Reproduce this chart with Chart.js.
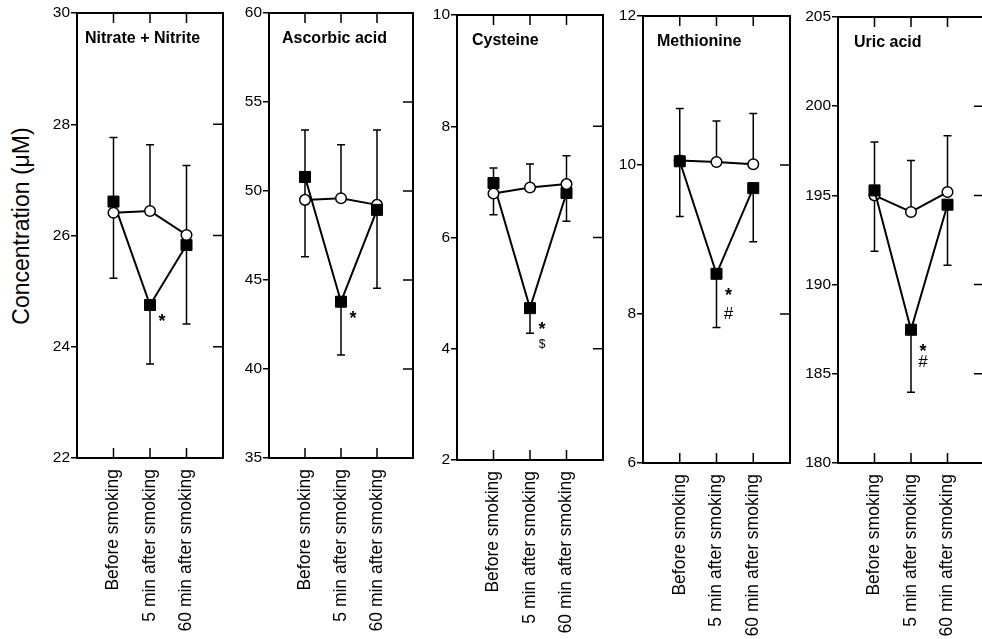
<!DOCTYPE html>
<html>
<head>
<meta charset="utf-8">
<script src="https://cdn.jsdelivr.net/npm/chart.js@4.4.1/dist/chart.umd.min.js"></script>
<style>
html, body { margin: 0; padding: 0; width: 982px; height: 639px; overflow: hidden; background: #fff; }
canvas { position: absolute; top: 0; }
#ytitle {
    position: absolute; left: 21px; top: 226px;
    transform: translate(-50%, -50%) rotate(-90deg);
    font: 23px "Liberation Sans", Arial, sans-serif; white-space: nowrap; color: #000;
}
</style>
</head>
<body>
<div id="ytitle">Concentration (μM)</div>
<canvas id="p1"></canvas>
<canvas id="p2"></canvas>
<canvas id="p3"></canvas>
<canvas id="p4"></canvas>
<canvas id="p5"></canvas>
<script>
const categories = ['Before smoking', '5 min after smoking', '60 min after smoking'];

// open circles (drawn with upward SD), filled squares (drawn with downward SD)
const nitrateOpen = [26.41, 26.44, 26.01];
const nitrateOpenSD = [1.35, 1.19, 1.25];
const nitrateFilled = [26.61, 24.75, 25.83];
const nitrateFilledSD = [1.38, 1.06, 1.42];

const ascorbicOpen = [49.5, 49.59, 49.22];
const ascorbicOpenSD = [3.92, 3.01, 4.2];
const ascorbicFilled = [50.79, 43.78, 48.94];
const ascorbicFilledSD = [4.49, 2.99, 4.41];

const cysteineOpen = [6.79, 6.9, 6.96];
const cysteineOpenSD = [0.46, 0.42, 0.51];
const cysteineFilled = [6.98, 4.73, 6.8];
const cysteineFilledSD = [0.57, 0.45, 0.51];

const methionineOpen = [10.06, 10.04, 10.01];
const methionineOpenSD = [0.7, 0.55, 0.68];
const methionineFilled = [10.05, 8.54, 9.69];
const methionineFilledSD = [0.74, 0.72, 0.72];

const uricOpen = [195.0, 194.07, 195.19];
const uricOpenSD = [3.0, 2.88, 3.16];
const uricFilled = [195.28, 187.47, 194.48];
const uricFilledSD = [3.41, 3.51, 3.4];

const panelTitles = ['Nitrate + Nitrite', 'Ascorbic acid', 'Cysteine', 'Methionine', 'Uric acid'];
const yMins = [22, 35, 2, 6, 180];
const yMaxs = [30, 60, 10, 12, 205];
const ySteps = [2, 5, 2, 2, 5];
// significance marks beside the 5 min filled point
const marks = [['*'], ['*'], ['*', '$'], ['*', '#'], ['*', '#']];

// page layout of each panel's plot box
const boxes = [
    { left: 77, right: 223, top: 13, bottom: 458, titleDx: 8 },
    { left: 269, right: 413, top: 13, bottom: 458, titleDx: 13 },
    { left: 457, right: 603, top: 15, bottom: 460, titleDx: 15 },
    { left: 643, right: 790, top: 16, bottom: 463, titleDx: 14 },
    { left: 838, right: 984, top: 17, bottom: 463, titleDx: 16 }
];
const circleOnTop = [true, false, true, false, false];

const FONT = '"Liberation Sans", Arial, sans-serif';

function toPoints(arr) {
    return arr.map((v, i) => ({ x: i + 1, y: v }));
}

function makePanel(idx, open, openSD, filled, filledSD) {
    const box = boxes[idx];
    const canvas = document.getElementById('p' + (idx + 1));
    canvas.width = box.right - box.left + 70;
    canvas.height = 639;
    canvas.style.left = (box.left - 60) + 'px';

    const panelPlugin = {
        id: 'panel' + idx,
        beforeDatasetsDraw(chart) {
            const ctx = chart.ctx;
            const xs = chart.scales.x, ys = chart.scales.y;
            ctx.save();
            ctx.strokeStyle = '#000';
            ctx.lineWidth = 1.5;
            for (let i = 0; i < 3; i++) {
                const x = xs.getPixelForValue(i + 1);
                const y0 = ys.getPixelForValue(open[i]);
                const y1 = ys.getPixelForValue(open[i] + openSD[i]);
                const y2 = ys.getPixelForValue(filled[i]);
                const y3 = ys.getPixelForValue(filled[i] - filledSD[i]);
                ctx.beginPath();
                ctx.moveTo(x, y0); ctx.lineTo(x, y1);
                ctx.moveTo(x - 4, y1); ctx.lineTo(x + 4, y1);
                ctx.moveTo(x, y2); ctx.lineTo(x, y3);
                ctx.moveTo(x - 4, y3); ctx.lineTo(x + 4, y3);
                ctx.stroke();
            }
            ctx.restore();
        },
        afterDraw(chart) {
            const ctx = chart.ctx;
            const a = chart.chartArea;
            const xs = chart.scales.x, ys = chart.scales.y;
            ctx.save();
            ctx.strokeStyle = '#000';
            ctx.lineWidth = 2;
            ctx.strokeRect(a.left, a.top, a.right - a.left, a.bottom - a.top);
            ctx.lineWidth = 1.5;
            ctx.beginPath();
            ys.ticks.forEach(t => {
                const y = ys.getPixelForValue(t.value);
                ctx.moveTo(a.right - 10, y); ctx.lineTo(a.right, y);
            });
            xs.ticks.forEach(t => {
                const x = xs.getPixelForValue(t.value);
                ctx.moveTo(x, a.top); ctx.lineTo(x, a.top + 10);
                ctx.moveTo(x, a.bottom); ctx.lineTo(x, a.bottom - 10);
            });
            ctx.stroke();

            ctx.fillStyle = '#000';
            ctx.textBaseline = 'middle';
            ctx.textAlign = 'left';
            ctx.font = 'bold 16px ' + FONT;
            ctx.fillText(panelTitles[idx], a.left + box.titleDx, a.top + 26);

            const mx = xs.getPixelForValue(2) + 12;
            const my = ys.getPixelForValue(filled[1]);
            const list = marks[idx];
            ctx.textAlign = 'center';
            ctx.font = 'bold 18px ' + FONT;
            ctx.fillText(list[0], mx, my + (list.length > 1 ? 22 : 17));
            if (list.length > 1) {
                if (list[1] === '$') {
                    ctx.font = '12px ' + FONT;
                    ctx.fillText(list[1], mx, my + 37);
                } else {
                    ctx.font = '17px ' + FONT;
                    ctx.fillText(list[1], mx, my + (idx === 4 ? 33 : 41));
                }
            }
            ctx.restore();
        }
    };

    new Chart(canvas, {
        type: 'line',
        data: {
            datasets: [
                {
                    data: toPoints(filled),
                    order: circleOnTop[idx] ? 1 : 0,
                    borderColor: '#000',
                    borderWidth: 2,
                    pointStyle: 'rect',
                    pointRadius: 7.8,
                    pointBackgroundColor: '#000',
                    pointBorderColor: '#000',
                    pointBorderWidth: 1
                },
                {
                    data: toPoints(open),
                    order: circleOnTop[idx] ? 0 : 1,
                    borderColor: '#000',
                    borderWidth: 2,
                    pointStyle: 'circle',
                    pointRadius: 5.3,
                    pointBackgroundColor: '#fff',
                    pointBorderColor: '#000',
                    pointBorderWidth: 1.5
                }
            ]
        },
        options: {
            responsive: false,
            animation: false,
            devicePixelRatio: 1,
            layout: { padding: { left: 0, right: 10, top: box.top, bottom: 0 } },
            plugins: { legend: { display: false }, tooltip: { enabled: false } },
            scales: {
                x: {
                    type: 'linear',
                    min: 0,
                    max: 4,
                    afterBuildTicks: s => { s.ticks = [1, 2, 3].map(v => ({ value: v })); },
                    afterFit: s => { s.height = 639 - box.bottom; },
                    grid: { display: false },
                    border: { display: false },
                    ticks: {
                        autoSkip: false,
                        minRotation: 90,
                        maxRotation: 90,
                        padding: 3,
                        color: '#000',
                        font: { family: FONT, size: 17.5 },
                        callback: v => categories[v - 1]
                    }
                },
                y: {
                    min: yMins[idx],
                    max: yMaxs[idx],
                    afterFit: s => { s.width = 60; },
                    grid: { drawOnChartArea: false, tickLength: 6, color: '#000', lineWidth: 1.5 },
                    border: { display: false },
                    ticks: {
                        stepSize: ySteps[idx],
                        padding: 1,
                        color: '#000',
                        font: { family: FONT, size: 15.5 }
                    }
                }
            }
        },
        plugins: [panelPlugin]
    });
}

makePanel(0, nitrateOpen, nitrateOpenSD, nitrateFilled, nitrateFilledSD);
makePanel(1, ascorbicOpen, ascorbicOpenSD, ascorbicFilled, ascorbicFilledSD);
makePanel(2, cysteineOpen, cysteineOpenSD, cysteineFilled, cysteineFilledSD);
makePanel(3, methionineOpen, methionineOpenSD, methionineFilled, methionineFilledSD);
makePanel(4, uricOpen, uricOpenSD, uricFilled, uricFilledSD);
</script>
</body>
</html>
